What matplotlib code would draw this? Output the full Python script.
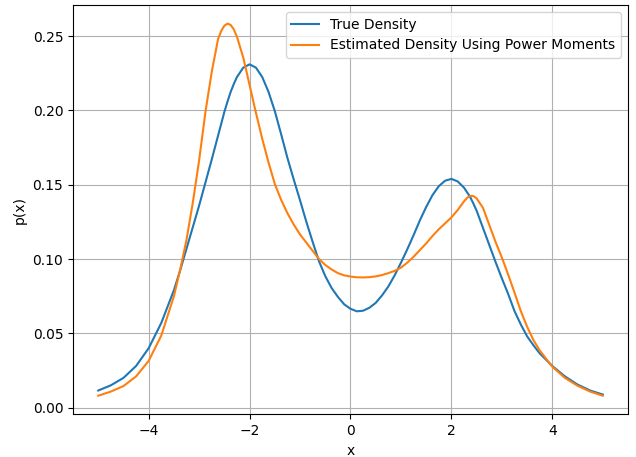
import matplotlib
matplotlib.use("Agg")
import matplotlib.pyplot as plt

# x positions where the curves were read (finer around the peaks, 0.25 in the tails)
x = [-5.0, -4.75, -4.5, -4.25, -4.0, -3.75,
     -3.5, -3.375, -3.25, -3.125, -3.0, -2.875, -2.75, -2.625,
     -2.5625, -2.5, -2.4375, -2.375, -2.3125, -2.25,
     -2.125, -2.0, -1.875, -1.75, -1.625,
     -1.5, -1.375, -1.25, -1.125, -1.0, -0.875, -0.75, -0.625,
     -0.5, -0.375, -0.25, -0.125, 0.0, 0.125, 0.25, 0.375,
     0.5, 0.625, 0.75, 0.875, 1.0, 1.125, 1.25, 1.375,
     1.5, 1.625, 1.75, 1.875, 2.0, 2.125, 2.25, 2.3125, 2.375, 2.4375,
     2.5, 2.625, 2.75, 2.875, 3.0, 3.125, 3.25, 3.375,
     3.5, 3.625, 3.75, 4.0, 4.25, 4.5, 4.75, 5.0]

# true density
p_true = [0.0115, 0.0150, 0.0200, 0.0280, 0.0400, 0.0570,
          0.0790, 0.0925, 0.1070, 0.1215, 0.1360, 0.1515, 0.1670, 0.1830,
          0.1910, 0.1990, 0.2060, 0.2125, 0.2178, 0.2225,
          0.2288, 0.2310, 0.2288, 0.2225, 0.2125,
          0.1995, 0.1840, 0.1680, 0.1535, 0.1395, 0.1250, 0.1115, 0.0985,
          0.0885, 0.0805, 0.0745, 0.0695, 0.0665, 0.0648, 0.0652, 0.0672,
          0.0705, 0.0755, 0.0815, 0.0890, 0.0975, 0.1065, 0.1160, 0.1260,
          0.1350, 0.1430, 0.1490, 0.1527, 0.1539, 0.1522, 0.1480, 0.1448, 0.1415, 0.1372,
          0.1325, 0.1210, 0.1095, 0.0980, 0.0870, 0.0765, 0.0650, 0.0560,
          0.0480, 0.0420, 0.0365, 0.0280, 0.0210, 0.0155, 0.0115, 0.0088]

# density estimated from power moments
p_est = [0.0080, 0.0108, 0.0145, 0.0210, 0.0315, 0.0485,
         0.0750, 0.0930, 0.1130, 0.1380, 0.1665, 0.1990, 0.2260, 0.2480,
         0.2535, 0.2570, 0.2584, 0.2575, 0.2545, 0.2495,
         0.2355, 0.2170, 0.1985, 0.1810, 0.1650,
         0.1505, 0.1398, 0.1308, 0.1232, 0.1165, 0.1110, 0.1055, 0.1000,
         0.0960, 0.0930, 0.0905, 0.0890, 0.0882, 0.0877, 0.0876, 0.0878,
         0.0883, 0.0892, 0.0905, 0.0920, 0.0942, 0.0975, 0.1015, 0.1060,
         0.1105, 0.1155, 0.1200, 0.1240, 0.1280, 0.1330, 0.1388, 0.1412, 0.1425, 0.1423,
         0.1408, 0.1345, 0.1230, 0.1115, 0.1010, 0.0895, 0.0775, 0.0650,
         0.0545, 0.0455, 0.0385, 0.0275, 0.0200, 0.0147, 0.0108, 0.0080]

fig = plt.figure(figsize=(6.36, 4.57), dpi=100)
ax = fig.add_axes([0.1148, 0.0934, 0.8726, 0.8956])
ax.plot(x, p_true, label="True Density")
ax.plot(x, p_est, label="Estimated Density Using Power Moments")
ax.set_xlabel("x")
ax.set_ylabel("p(x)")
ax.grid(True)
ax.legend(loc="upper right")
fig.savefig("out.png", dpi=100)
